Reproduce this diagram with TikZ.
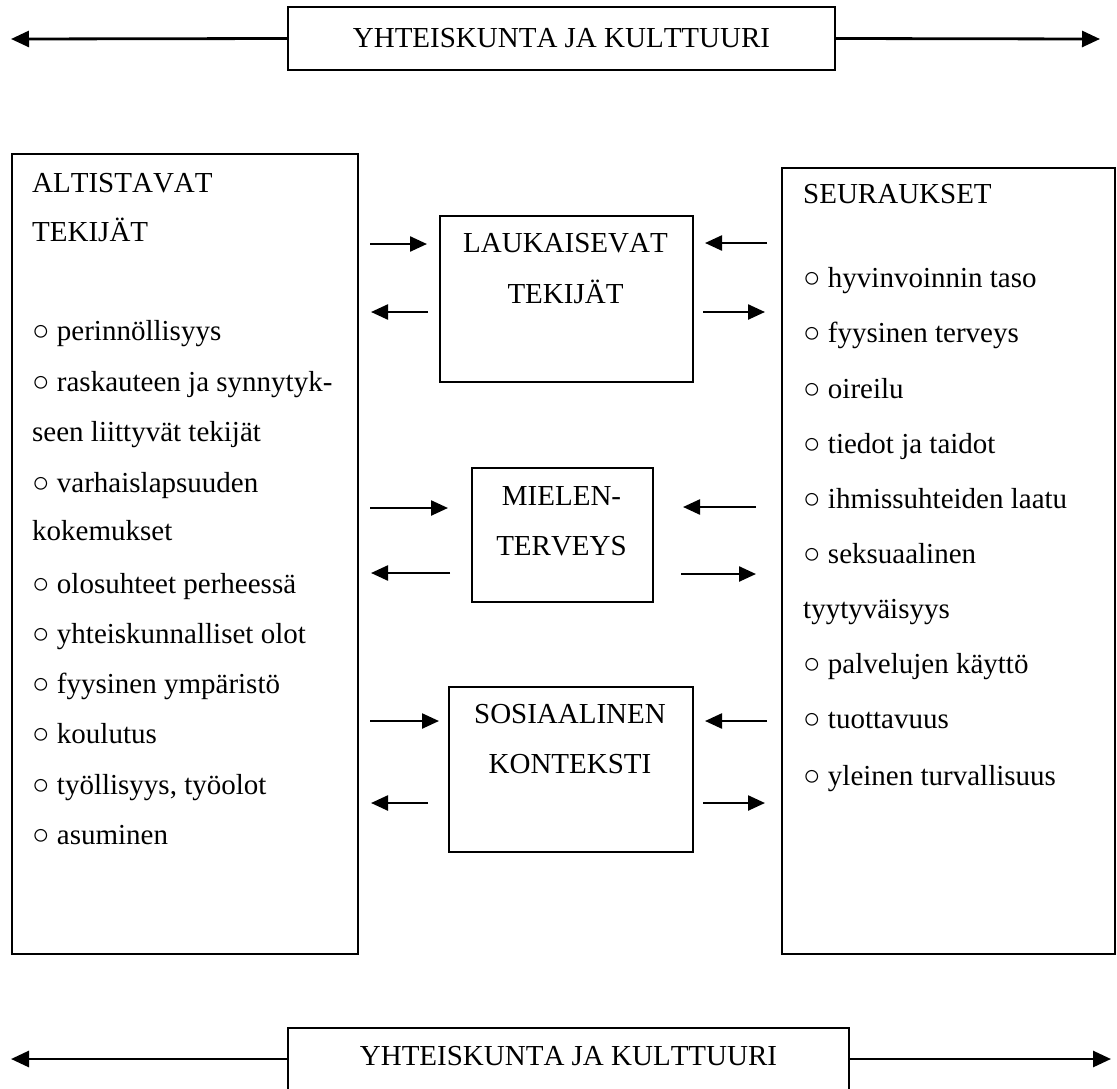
\documentclass[tikz,border=0pt]{standalone}
\usepackage{fontspec}
\setmainfont[Kerning=Off]{Liberation Serif}
\usetikzlibrary{arrows.meta}
\begin{document}
\begin{tikzpicture}[x=1pt,y=-1pt,
  box/.style={draw, line width=1.8pt, inner sep=0pt},
  big/.style={font=\fontsize{29}{34}\selectfont},
  txt/.style={inner sep=0pt, anchor=base west, font=\fontsize{29}{34}\selectfont},
  ctxt/.style={inner sep=0pt, anchor=base, font=\fontsize{29}{34}\selectfont},
  arr/.style={line width=2.4pt, -{Triangle[length=17pt,width=15pt]}},
  bigarr/.style={line width=2.8pt, -{Triangle[length=18pt,width=16pt]}}]
\useasboundingbox (0,0) rectangle (1117,1088);

% top band
\node[box, big, minimum width=547pt, minimum height=63pt] (top) at (561.5,38.5) {YHTEISKUNTA JA KULTTUURI};
\coordinate (tl) at (11,39);
\coordinate (tr) at (1100,39);
\draw[bigarr] (top.west) -- (tl);
\draw[bigarr] (top.east) -- (tr);

% bottom band (cut off by the page edge)
\node[box, big, anchor=north, minimum width=561pt, text height=19pt, text depth=70pt, inner ysep=19pt] (bot) at (568.5,1027) {YHTEISKUNTA JA KULTTUURI};
\coordinate (bl) at (11,1059);
\coordinate (br) at (1111,1059);
\draw[bigarr] (bl -| bot.west) -- (bl);
\draw[bigarr] (br -| bot.east) -- (br);

% big side boxes
\node[box, anchor=north west, minimum width=346pt, minimum height=800pt] (alt) at (11,153) {};
\node[box, anchor=north west, minimum width=333pt, minimum height=786pt] (seu) at (781,167) {};

% left list
\foreach \yy/\tt [count=\i] in {192/ALTISTAVAT, 241/TEKIJÄT, 340/{○ perinnöllisyys},
  391/{○ raskauteen ja synnytyk-}, 441/{seen liittyvät tekijät}, 492/{○ varhaislapsuuden},
  540/{kokemukset}, 593/{○ olosuhteet perheessä}, 643/{○ yhteiskunnalliset olot},
  693/{○ fyysinen ympäristö}, 743/{○ koulutus}, 794/{○ työllisyys, työolot}, 844/{○ asuminen}}
  \node[txt] (l\i) at (32,\yy) {\tt};

% right list
\foreach \yy/\tt [count=\i] in {203/SEURAUKSET, 287/{○ hyvinvoinnin taso}, 342/{○ fyysinen terveys},
  398/{○ oireilu}, 453/{○ tiedot ja taidot}, 508/{○ ihmissuhteiden laatu}, 563/{○ seksuaalinen},
  618/{tyytyväisyys}, 673/{○ palvelujen käyttö}, 728/{○ tuottavuus}, 785/{○ yleinen turvallisuus}}
  \node[txt] (r\i) at (803,\yy) {\tt};

% middle boxes
\node[box, anchor=north west, minimum width=253pt, minimum height=166pt] (lau) at (439,215) {};
\node[ctxt] (lau1) at (565.5,252) {LAUKAISEVAT};
\node[ctxt] (lau2) at (565.5,303) {TEKIJÄT};

\node[box, anchor=north west, minimum width=181pt, minimum height=134pt] (mie) at (471,467) {};
\node[ctxt] (mie1) at (561.5,505) {MIELEN-};
\node[ctxt] (mie2) at (561.5,555) {TERVEYS};

\node[box, anchor=north west, minimum width=244pt, minimum height=165pt] (sos) at (448,686) {};
\node[ctxt] (sos1) at (570,723) {SOSIAALINEN};
\node[ctxt] (sos2) at (570,773) {KONTEKSTI};

% connector end points
\coordinate (a1s) at (370,244); \coordinate (a1e) at (427,244);
\coordinate (a2s) at (428,312); \coordinate (a2e) at (371,312);
\coordinate (a3s) at (767,243); \coordinate (a3e) at (705,243);
\coordinate (a4s) at (703,312); \coordinate (a4e) at (765,312);
\coordinate (a5s) at (370,508); \coordinate (a5e) at (448,508);
\coordinate (a6s) at (450,573); \coordinate (a6e) at (371,573);
\coordinate (a7s) at (756,507); \coordinate (a7e) at (683,507);
\coordinate (a8s) at (681,574); \coordinate (a8e) at (756,574);
\coordinate (a9s) at (370,721); \coordinate (a9e) at (439,721);
\coordinate (a10s) at (428,803); \coordinate (a10e) at (371,803);
\coordinate (a11s) at (767,721); \coordinate (a11e) at (705,721);
\coordinate (a12s) at (703,803); \coordinate (a12e) at (765,803);
\foreach \k in {1,...,12} \draw[arr] (a\k s) -- (a\k e);
\end{tikzpicture}
\end{document}
